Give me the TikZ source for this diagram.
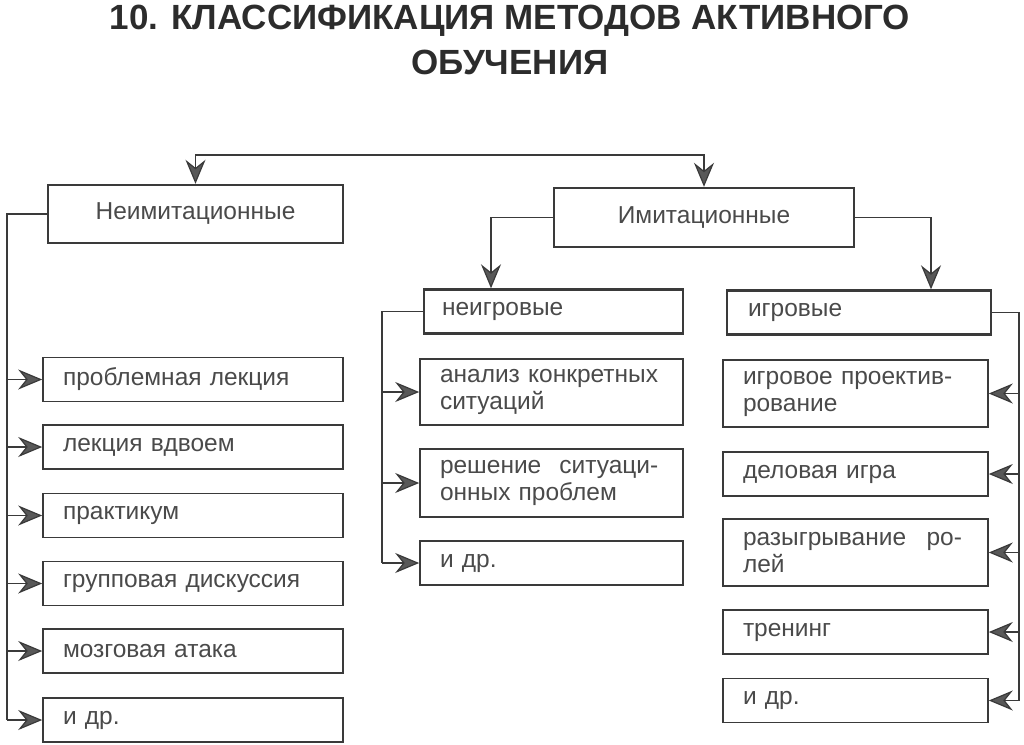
\documentclass[tikz,border=0pt]{standalone}
\usepackage{fontspec}
\setmainfont{Liberation Sans}
\usetikzlibrary{arrows.meta}
\definecolor{inkgray}{HTML}{3A3A3A}
\definecolor{textgray}{HTML}{4A4A4A}
\definecolor{titlegray}{HTML}{2C2C2C}
\tikzset{
  boxfont/.style={font=\fontsize{12.25}{13.5}\selectfont, text=textgray},
  headbox/.style={boxfont, draw=inkgray, line width=1.2pt, inner sep=0pt},
  leftbox/.style={boxfont, draw=inkgray, line width=0.8pt, align=left,
    text width=130pt, inner xsep=10pt, inner ysep=0pt, minimum height=22pt},
  midbox/.style={leftbox, text width=111.5pt},
  rightbox/.style={leftbox, text width=112.5pt},
  link/.style={draw=inkgray, line width=0.6pt},
  headtip/.tip={Stealth[length=12pt,width=10pt,inset=4pt,fill=inkgray!85]},
  arr/.style={link, -headtip}
}

\begin{document}
\begin{tikzpicture}[x=0.5pt,y=-0.5pt]
  \useasboundingbox (0,0) rectangle (1024,745);

  % Title
  \node[font=\fontsize{17.5}{22.5}\selectfont\bfseries, text=titlegray, align=center]
    (title) at (510,40) {10. КЛАССИФИКАЦИЯ МЕТОДОВ АКТИВНОГО\\ОБУЧЕНИЯ};

  % Two main groups
  \node[headbox, minimum width=147.5pt, minimum height=29pt] (nonimit) at (195.5,214) {Неимитационные};
  \node[headbox, minimum width=150pt, minimum height=29.5pt] (imit) at (704,217.5) {Имитационные};

  % Sub-groups of the imitation methods
  \node[headbox, leftbox, text width=111.5pt, inner xsep=9pt, line width=1.2pt]
    (nongame) at (553.5,311.5) {неигровые};
  \node[headbox, leftbox, text width=111pt, inner xsep=10.5pt, line width=1.2pt]
    (game) at (859,312.5) {игровые};

  % Left column
  \node[leftbox] (l1) at (193,379.5) {проблемная лекция};
  \node[leftbox] (l2) at (193,447) {лекция вдвоем};
  \node[leftbox] (l3) at (193,515.5) {практикум};
  \node[leftbox] (l4) at (193,583.5) {групповая дискуссия};
  \node[leftbox] (l5) at (193,651) {мозговая атака};
  \node[leftbox] (l6) at (193,720) {и др.};

  % Middle column
  \node[midbox, minimum height=33pt] (m1) at (551.5,392) {анализ конкретных\\ситуаций};
  \node[midbox, minimum height=34pt] (m2) at (551.5,483) {\mbox{решение\hspace{0.4em} ситуаци-}\\онных проблем};
  \node[midbox] (m3) at (551.5,563) {и др.};

  % Right column
  \node[rightbox, minimum height=33.5pt] (r1) at (855.5,393.5) {игровое проектив-\\рование};
  \node[rightbox] (r2) at (855.5,474) {деловая игра};
  \node[rightbox, minimum height=33.5pt] (r3) at (855.5,552.5) {\mbox{разыгрывание\hspace{0.5em} ро-}\\лей};
  \node[rightbox] (r4) at (855.5,632) {тренинг};
  \node[rightbox] (r5) at (855.5,700.5) {и др.};

  % Connectors
  \coordinate (topbar) at (450,155);
  \coordinate (lbus) at (7,0);
  \coordinate (mbus) at (382,0);
  \coordinate (rbus) at (1019,0);
  \coordinate (ngdrop) at (491,0);
  \coordinate (gdrop) at (931,0);

  \draw[link, headtip-headtip] (nonimit.north) |- (topbar) -| (imit.north);
  \draw[arr] (imit.west) -| (ngdrop |- nongame.north);
  \draw[arr] (imit.east) -| (gdrop |- game.north);

  \draw[link] (nonimit.west) -| (lbus |- l6.west);
  \draw[arr] (lbus |- l1.west) -- (l1.west);
  \draw[arr] (lbus |- l2.west) -- (l2.west);
  \draw[arr] (lbus |- l3.west) -- (l3.west);
  \draw[arr] (lbus |- l4.west) -- (l4.west);
  \draw[arr] (lbus |- l5.west) -- (l5.west);
  \draw[arr] (lbus |- l6.west) -- (l6.west);

  \draw[link] (nongame.west) -| (mbus |- m3.west);
  \draw[arr] (mbus |- m1.west) -- (m1.west);
  \draw[arr] (mbus |- m2.west) -- (m2.west);
  \draw[arr] (mbus |- m3.west) -- (m3.west);

  \draw[link] (game.east) -| (rbus |- r5.east);
  \draw[arr] (rbus |- r1.east) -- (r1.east);
  \draw[arr] (rbus |- r2.east) -- (r2.east);
  \draw[arr] (rbus |- r3.east) -- (r3.east);
  \draw[arr] (rbus |- r4.east) -- (r4.east);
  \draw[arr] (rbus |- r5.east) -- (r5.east);
\end{tikzpicture}
\end{document}
